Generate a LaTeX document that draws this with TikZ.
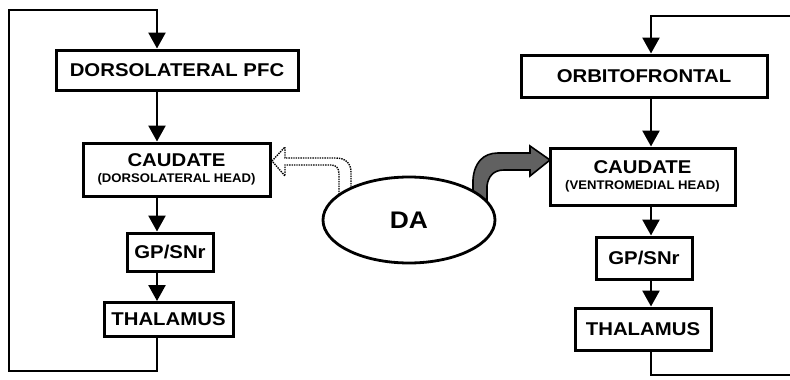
\documentclass[tikz,border=0pt]{standalone}
\usepackage{fontspec}
\usepackage{graphicx}
\setmainfont{Liberation Sans}
\usetikzlibrary{arrows.meta,shapes.geometric}
\newcommand{\mainlbl}[1]{\scalebox{1.1}[1]{\fontsize{18.5}{18}\selectfont\bfseries #1}}
\newcommand{\sublbl}[1]{\scalebox{1.05}[1]{\fontsize{12.5}{12}\selectfont\bfseries #1}}
\tikzset{
  box/.style={draw=black, line width=3pt, fill=white, inner sep=0pt, align=center,
    font=\fontsize{12}{15.5}\selectfont},
  flow/.style={line width=2.6pt, -{Triangle[length=16pt,width=17pt]}},
  loopline/.style={line width=2.4pt},
}
\begin{document}
\begin{tikzpicture}[x=1pt,y=-1pt]
\useasboundingbox (0,0) rectangle (790,380);
% left circuit
\node[box, minimum width=242pt, minimum height=40pt] (dlpfc) at (177,70) {\mainlbl{DORSOLATERAL PFC}};
\node[box, minimum width=187pt, minimum height=53pt] (caudL) at (176.5,169.5) {\mainlbl{CAUDATE}\\\sublbl{(DORSOLATERAL HEAD)}};
\node[box, minimum width=86pt, minimum height=38pt] (gpL) at (170,252) {\mainlbl{GP/SNr}};
\node[box, minimum width=129pt, minimum height=34pt] (thalL) at (168.5,319.5) {\mainlbl{THALAMUS}};
\coordinate (lx) at (157,0);
\coordinate (lbot) at (9,371);
\coordinate (ltop) at (9,10);
\draw[flow] (dlpfc.south -| lx) -- (caudL.north -| lx);
\draw[flow] (caudL.south -| lx) -- (gpL.north -| lx);
\draw[flow] (gpL.south -| lx) -- (thalL.north -| lx);
\draw[loopline, line join=miter] (thalL.south -| lx) -- (lx |- lbot) -- (lbot) -- (ltop) -- (lx |- ltop);
\draw[flow] ([yshift=1pt]lx |- ltop) -- (dlpfc.north -| lx);
% right circuit
\node[box, minimum width=246pt, minimum height=42pt] (orb) at (644,76) {\mainlbl{ORBITOFRONTAL}};
\node[box, minimum width=185pt, minimum height=57pt] (caudR) at (642.5,176.5) {\mainlbl{CAUDATE}\\\sublbl{(VENTROMEDIAL HEAD)}};
\node[box, minimum width=96pt, minimum height=42pt] (gpR) at (644,258) {\mainlbl{GP/SNr}};
\node[box, minimum width=136pt, minimum height=42pt] (thalR) at (643,329) {\mainlbl{THALAMUS}};
\coordinate (rx) at (651,0);
\coordinate (rtop) at (790,16);
\coordinate (rbot) at (790,375);
\draw[flow] (orb.south -| rx) -- (caudR.north -| rx);
\draw[flow] (caudR.south -| rx) -- (gpR.north -| rx);
\draw[flow] (gpR.south -| rx) -- (thalR.north -| rx);
\draw[loopline, line join=miter] (thalR.south -| rx) -- (rx |- rbot) -- (rbot);
\draw[loopline] (rtop) -- ([xshift=-1.2pt]rx |- rtop);
\draw[flow] (rx |- rtop) -- (orb.north -| rx);
% DA arrows
\draw[line width=1.4pt, densely dotted, fill=white, line join=miter]
  (272,161) -- (285,147) -- (285,158) -- (336,158)
  .. controls (345,158) and (351,163) .. (351,172) -- (351,200) -- (339,205) -- (339,174)
  .. controls (339,168) and (336,165) .. (331,165) -- (285,165) -- (285,176) -- cycle;
\draw[line width=1.6pt, fill=black!62, line join=miter]
  (550,160) -- (530,146) -- (530,153) -- (498,153)
  .. controls (483,153) and (474,163) .. (473,180) -- (473,205) -- (487,212) -- (487,186)
  .. controls (488,177) and (493,170) .. (504,170) -- (530,170) -- (530,176) -- cycle;
\node[draw, line width=2.8pt, fill=white, ellipse, inner sep=0pt, minimum width=172pt, minimum height=86pt] (da) at (409,220) {\scalebox{1.1}[1]{\fontsize{24}{24}\selectfont\bfseries DA}};
\end{tikzpicture}
\end{document}
